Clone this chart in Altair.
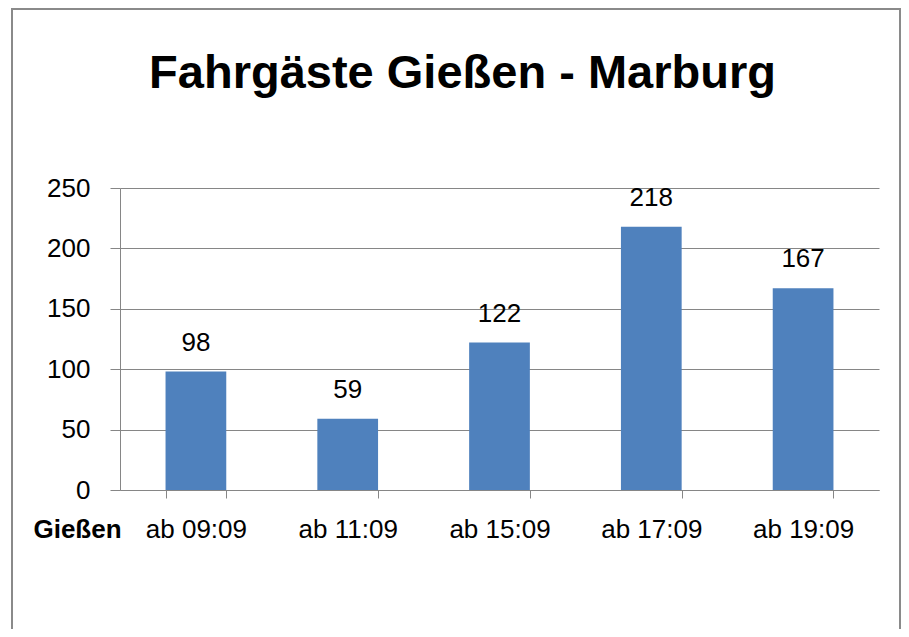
import altair as alt
import pandas as pd

categories = ["ab 09:09", "ab 11:09", "ab 15:09", "ab 17:09", "ab 19:09"]
values = [98, 59, 122, 218, 167]
y_ticks = [0, 50, 100, 150, 200, 250]

df = pd.DataFrame({"zeit": categories, "fahrgaeste": values})

FONT = "Liberation Sans"
GRID = "#868686"

x_enc = alt.X(
    "zeit:N",
    sort=categories,
    scale=alt.Scale(paddingInner=0.6, paddingOuter=0.3),
    axis=alt.Axis(
        title="Gießen",
        titleFont=FONT,
        titleFontSize=26,
        titleFontWeight="bold",
        titleColor="black",
        titleX=-43,
        titleY=47,
        titleAlign="center",
        titleBaseline="alphabetic",
        labelFont=FONT,
        labelFontSize=26,
        labelColor="black",
        labelAngle=0,
        labelPadding=18,
        tickBand="extent",
        tickSize=8,
        tickColor=GRID,
        domainColor=GRID,
        grid=False,
    ),
)
y_enc = alt.Y(
    "fahrgaeste:Q",
    scale=alt.Scale(domain=[0, 250], nice=False),
    axis=alt.Axis(
        title=None,
        values=y_ticks,
        labelFont=FONT,
        labelFontSize=26,
        labelColor="black",
        labelPadding=20,
        tickSize=10,
        tickColor=GRID,
        domainColor=GRID,
        gridColor=GRID,
        gridOpacity=1,
    ),
)

bars = alt.Chart(df).mark_bar(color="#4F81BD").encode(x=x_enc, y=y_enc)

labels = alt.Chart(df).mark_text(
    font=FONT, fontSize=26, color="black", dy=-21, baseline="alphabetic"
).encode(x=alt.X("zeit:N", sort=categories), y="fahrgaeste:Q", text="fahrgaeste:Q")

frame = alt.Chart(alt.Data(values=[{}])).mark_rect(
    fill=None, stroke="#8a8a8a", strokeWidth=2, clip=False
).encode(
    x=alt.value(-108), x2=alt.value(780), y=alt.value(-179), y2=alt.value(460)
)

chart = alt.layer(frame, bars, labels).properties(
    width=759,
    height=302,
    padding={"left": 112, "top": 180, "right": 22, "bottom": 139},
    autosize=alt.AutoSizeParams(type="none"),
    title=alt.TitleParams(
        "Fahrgäste Gießen - Marburg",
        font=FONT,
        fontSize=47,
        fontWeight="bold",
        color="black",
        anchor="middle",
        frame="group",
        dx=-37,
        dy=90,
        offset=0,
    ),
).configure_view(stroke=None)

chart.save("out.html", embed_options={"renderer": "svg", "actions": False})
